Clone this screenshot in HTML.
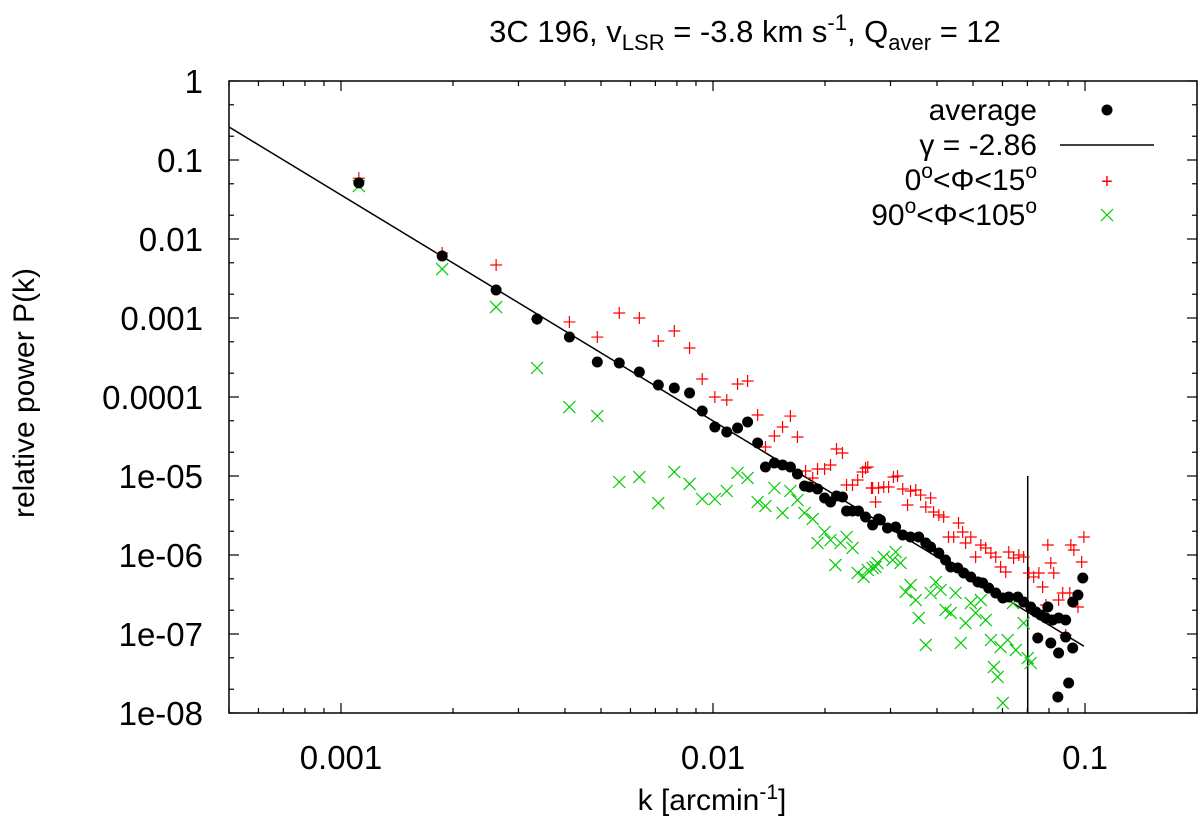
<!DOCTYPE html>
<html><head><meta charset="utf-8"><style>
html,body{margin:0;padding:0;background:#fff;}
svg{display:block;font-family:"Liberation Sans",sans-serif;}
</style></head><body>
<svg id="chart" width="1200" height="826" viewBox="0 0 1200 826" xmlns="http://www.w3.org/2000/svg">
<rect width="1200" height="826" fill="#fff"/>
<g id="axes"></g>
<g id="marks"></g>
<text x="745" y="42" font-size="31" text-anchor="middle">3C 196, v<tspan font-size="22" dy="8">LSR</tspan><tspan dy="-8"> = -3.8 km s</tspan><tspan font-size="22" dy="-12">-1</tspan><tspan dy="12">, Q</tspan><tspan font-size="22" dy="8">aver</tspan><tspan dy="-8"> = 12</tspan></text>
<text x="712" y="810" font-size="30" text-anchor="middle">k [arcmin<tspan font-size="21" dy="-11">-1</tspan><tspan dy="11">]</tspan></text>
<text transform="translate(34,393) rotate(-90)" font-size="30" text-anchor="middle">relative power P(k)</text>
<g id="legend">
<text x="1037" y="120" font-size="30" text-anchor="end">average</text>
<circle cx="1107" cy="110" r="5.5" fill="#000"/>
<text x="1037" y="155" font-size="30" text-anchor="end">γ = -2.86</text>
<line x1="1060" y1="145" x2="1154" y2="145" stroke="#000" stroke-width="1.5"/>
<text x="1037" y="190" font-size="30" text-anchor="end">0<tspan font-size="21" dy="-12">o</tspan><tspan dy="12">&lt;Φ&lt;15</tspan><tspan font-size="21" dy="-12">o</tspan></text>
<text x="1107" y="188" font-size="20" fill="#f00" text-anchor="middle">+</text>
<text x="1037" y="225" font-size="30" text-anchor="end">90<tspan font-size="21" dy="-12">o</tspan><tspan dy="12">&lt;Φ&lt;105</tspan><tspan font-size="21" dy="-12">o</tspan></text>
<g stroke="#0c0" stroke-width="1.2"><line x1="1101" y1="209" x2="1113" y2="221"/><line x1="1101" y1="221" x2="1113" y2="209"/></g>
</g>
</svg>
<script>
const avgLogK=[-2.952,-2.728,-2.583,-2.473,-2.386,-2.311,-2.252,-2.198,-2.147,-2.104,-2.063,-2.029,-1.995,-1.963,-1.934,-1.907,-1.880,-1.859,-1.835,-1.813,-1.792,-1.773,-1.754,-1.741,-1.719,-1.700,-1.684,-1.668,-1.652,-1.641,-1.625,-1.609,-1.590,-1.571,-1.555,-1.550,-1.531,-1.509,-1.490,-1.469,-1.447,-1.428,-1.415,-1.393,-1.375,-1.361,-1.342,-1.326,-1.307,-1.288,-1.275,-1.259,-1.240,-1.221,-1.205,-1.181,-1.165,-1.146,-1.132,-1.119,-1.105,-1.100,-1.087,-1.071,-1.052,-1.033,-1.019,-1.006,-1.127,-1.092,-1.071,-1.052,-1.033,-1.044,-1.073];
const avgLogP=[-1.29,-2.215,-2.646,-3.013,-3.241,-3.557,-3.570,-3.684,-3.848,-3.886,-3.949,-4.177,-4.380,-4.443,-4.392,-4.316,-4.582,-4.886,-4.835,-4.861,-4.886,-4.975,-5.127,-5.139,-5.165,-5.278,-5.329,-5.253,-5.266,-5.443,-5.443,-5.443,-5.519,-5.620,-5.544,-5.557,-5.658,-5.646,-5.747,-5.772,-5.772,-5.848,-5.899,-5.975,-6.063,-6.152,-6.165,-6.228,-6.278,-6.342,-6.354,-6.418,-6.481,-6.544,-6.532,-6.532,-6.595,-6.658,-6.722,-6.759,-6.797,-6.658,-6.823,-6.797,-6.823,-6.595,-6.506,-6.291,-7.051,-7.114,-7.241,-7.038,-7.177,-7.620,-7.797];
const redLogK=[-2.952,-2.728,-2.583,-2.473,-2.386,-2.311,-2.252,-2.198,-2.147,-2.104,-2.063,-2.029,-1.995,-1.963,-1.934,-1.907,-1.880,-1.859,-1.835,-1.813,-1.792,-1.773,-1.751,-1.732,-1.719,-1.700,-1.684,-1.668,-1.652,-1.641,-1.625,-1.611,-1.598,-1.584,-1.574,-1.563,-1.590,-1.571,-1.555,-1.541,-1.528,-1.515,-1.504,-1.490,-1.477,-1.469,-1.455,-1.442,-1.428,-1.415,-1.407,-1.393,-1.380,-1.367,-1.353,-1.340,-1.329,-1.321,-1.307,-1.294,-1.280,-1.267,-1.253,-1.240,-1.227,-1.213,-1.205,-1.192,-1.178,-1.165,-1.151,-1.138,-1.124,-1.114,-1.100,-1.092,-1.084,-1.071,-1.060,-1.052,-1.038,-1.030,-1.019,-1.009,-1.003,-1.105,-1.041];
const redLogP=[-1.23,-2.177,-2.329,-3.013,-3.05,-3.241,-2.937,-3.000,-3.291,-3.165,-3.380,-3.772,-4.000,-4.038,-3.835,-3.797,-4.228,-4.633,-4.494,-4.380,-4.241,-4.506,-4.937,-5.025,-4.911,-4.911,-4.861,-4.658,-4.709,-5.114,-5.114,-5.051,-4.949,-4.886,-5.152,-5.329,-4.899,-5.152,-5.152,-5.139,-5.139,-5.013,-5.000,-5.165,-5.367,-5.190,-5.177,-5.241,-5.392,-5.278,-5.456,-5.494,-5.519,-5.772,-5.772,-5.595,-5.709,-5.848,-5.772,-6.025,-5.873,-5.911,-5.975,-6.025,-6.152,-6.215,-5.962,-6.038,-6.000,-6.025,-6.228,-6.278,-6.228,-6.405,-5.873,-6.101,-6.228,-6.570,-6.481,-7.013,-5.873,-5.937,-6.658,-6.089,-5.772,-6.633,-6.481];
const greenLogK=[-2.952,-2.728,-2.583,-2.473,-2.386,-2.311,-2.252,-2.198,-2.147,-2.104,-2.063,-2.029,-1.995,-1.963,-1.934,-1.907,-1.880,-1.859,-1.835,-1.813,-1.792,-1.773,-1.754,-1.732,-1.719,-1.700,-1.684,-1.671,-1.657,-1.641,-1.625,-1.611,-1.595,-1.571,-1.558,-1.584,-1.563,-1.541,-1.517,-1.509,-1.496,-1.482,-1.469,-1.455,-1.447,-1.428,-1.415,-1.401,-1.388,-1.375,-1.361,-1.348,-1.334,-1.321,-1.307,-1.294,-1.280,-1.267,-1.253,-1.245,-1.235,-1.227,-1.221,-1.208,-1.194,-1.186,-1.165,-1.154,-1.146];
const greenLogP=[-1.33,-2.38,-2.861,-3.633,-4.127,-4.241,-5.076,-5.013,-5.342,-4.949,-5.101,-5.291,-5.291,-5.190,-4.962,-5.025,-5.329,-5.380,-5.152,-5.468,-5.190,-5.304,-5.468,-5.544,-5.848,-5.709,-5.810,-6.127,-5.848,-5.772,-5.911,-6.228,-6.278,-6.165,-6.101,-6.190,-6.152,-6.025,-6.063,-5.962,-6.101,-6.468,-6.380,-6.570,-6.797,-7.139,-6.481,-6.342,-6.443,-6.696,-6.734,-6.481,-7.114,-6.861,-6.608,-6.734,-6.570,-6.823,-7.076,-7.418,-7.544,-7.165,-7.873,-7.076,-6.608,-7.203,-6.861,-7.304,-7.367];
const fitGamma=-2.86;
const fitLogPAtLeft=-0.582;
const fitLogKRange=[-3.301,-1.003];
const cutoffLogK=-1.154;
const cutoffLogPRange=[-8,-5];
const xTickLabels=["0.001","0.01","0.1"];
const xTickValues=[0.001,0.01,0.1];
const yTickLabels=["1","0.1","0.01","0.001","0.0001","1e-05","1e-06","1e-07","1e-08"];
const yTickValues=[1,0.1,0.01,0.001,0.0001,1e-5,1e-6,1e-7,1e-8];

const L=229,R=1197,T=81,B=713;
const lkMin=Math.log10(0.0005),lkMax=Math.log10(0.2),lpMin=-8,lpMax=0;
const X=lk=>L+(lk-lkMin)/(lkMax-lkMin)*(R-L);
const Y=lp=>T+(lpMax-lp)/(lpMax-lpMin)*(B-T);
const NS="http://www.w3.org/2000/svg";
const axes=document.getElementById('axes'),marks=document.getElementById('marks');
function mk(tag,attrs,parent){const e=document.createElementNS(NS,tag);for(const k in attrs)e.setAttribute(k,attrs[k]);parent.appendChild(e);return e;}

const frame=mk('rect',{x:L,y:T,width:R-L,height:B-T,fill:'none',stroke:'#000','stroke-width':1.5},axes);



for(let d=-4;d<=-1;d++){for(let m=1;m<=9;m++){const v=m*Math.pow(10,d);const lk=Math.log10(v);if(lk<lkMin-1e-9||lk>lkMax+1e-9)continue;const x=X(lk);const len=m===1?10:5;
const t1=mk('line',{x1:x,y1:B,x2:x,y2:B-len,stroke:'#000','stroke-width':1.2},axes);


const t2=mk('line',{x1:x,y1:T,x2:x,y2:T+len,stroke:'#000','stroke-width':1.2},axes);

}}
xTickValues.forEach((v,i)=>{const t=mk('text',{x:X(Math.log10(v)),y:769,'font-size':33,'text-anchor':'middle'},axes);t.textContent=xTickLabels[i];

});

for(let d=-8;d<=0;d++){[1,2,5].forEach(m=>{const lp=d+Math.log10(m);if(lp>lpMax+1e-9||lp<lpMin-1e-9)return;const y=Y(lp);const len=m===1?10:5;
const t1=mk('line',{x1:L,y1:y,x2:L+len,y2:y,stroke:'#000','stroke-width':1.2},axes);


const t2=mk('line',{x1:R,y1:y,x2:R-len,y2:y,stroke:'#000','stroke-width':1.2},axes);

});}
yTickValues.forEach((v,i)=>{const t=mk('text',{x:203,y:Y(Math.log10(v))+12,'font-size':33,'text-anchor':'end'},axes);t.textContent=yTickLabels[i];

});

const fl=mk('line',{x1:X(fitLogKRange[0]),y1:Y(fitLogPAtLeft),x2:X(fitLogKRange[1]),y2:Y(fitLogPAtLeft+fitGamma*(fitLogKRange[1]-fitLogKRange[0])),stroke:'#000','stroke-width':1.5},marks);


const cl=mk('line',{x1:X(cutoffLogK),y1:Y(cutoffLogPRange[0]),x2:X(cutoffLogK),y2:Y(cutoffLogPRange[1]),stroke:'#000','stroke-width':1.5},marks);



redLogK.forEach((lk,i)=>{const x=X(lk),y=Y(redLogP[i]);const g=mk('path',{d:`M${x-6},${y}H${x+6}M${x},${y-6}V${y+6}`,stroke:'#f00','stroke-width':1.2,fill:'none'},marks);

});
greenLogK.forEach((lk,i)=>{const x=X(lk),y=Y(greenLogP[i]);const g=mk('path',{d:`M${x-6},${y-6}L${x+6},${y+6}M${x-6},${y+6}L${x+6},${y-6}`,stroke:'#0c0','stroke-width':1.2,fill:'none'},marks);

});
avgLogK.forEach((lk,i)=>{const c=mk('circle',{cx:X(lk),cy:Y(avgLogP[i]),r:5.5,fill:'#000'},marks);

});
</script>
</body></html>
